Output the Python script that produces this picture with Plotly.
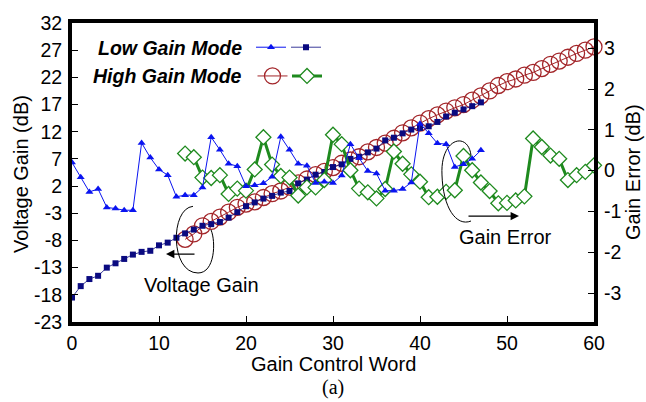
import plotly.graph_objects as go

# Gain control word (x) for each mode
low_words = list(range(0, 48))
high_words = list(range(13, 61))

# Low gain mode: voltage gain (dB) and gain error (dB)
low_gain = [-18.5, -16.4, -15.1, -14.5, -13.0, -12.2, -11.4, -10.6, -10.1, -9.9,
            -8.9, -8.4, -7.5, -6.7, -6.0, -5.3, -5.0, -4.6, -3.8, -2.8,
            -1.7, -1.0, -0.3, 0.2, 0.8, 1.1, 2.5, 3.2, 4.1, 4.6,
            5.5, 6.0, 7.0, 7.4, 8.2, 8.9, 10.4, 10.9, 11.7, 12.4,
            12.7, 13.0, 13.8, 14.8, 15.5, 16.1, 16.7, 17.4]
low_err = [0.20, -0.16, -0.52, -0.45, -0.90, -0.93, -0.97, -0.97, 0.68, 0.32,
           0.03, -0.11, -0.64, -0.60, -0.60, -0.41, 0.82, 0.51, 0.17, 0.11,
           -0.38, -0.36, -0.31, -0.15, 0.83, 0.51, 0.17, 0.12, -0.30, -0.27,
           -0.30, -0.12, 0.65, 0.31, -0.01, -0.07, -0.49, -0.49, -0.45, -0.29,
           1.15, 0.92, 0.67, 0.65, 0.09, 0.16, 0.29, 0.50]

# High gain mode: voltage gain (dB) and gain error (dB)
high_gain = [-7.8, -6.8, -5.3, -4.5, -3.7, -2.8, -1.9, -1.3, -0.9, -0.1,
             0.6, 1.1, 1.8, 2.6, 3.3, 4.1, 4.7, 5.4, 6.2, 6.8,
             7.4, 8.3, 9.1, 9.9, 10.8, 11.8, 12.7, 13.6, 14.4, 15.1,
             15.8, 16.4, 17.0, 17.8, 18.6, 19.5, 20.5, 21.2, 21.7, 22.4,
             22.9, 23.6, 24.4, 25.0, 25.7, 26.4, 27.0, 27.6]
high_err = [0.42, 0.33, -0.17, -0.18, -0.11, -0.57, -0.44, -0.49, 0.03, 0.82,
            0.15, -0.13, -0.17, -0.61, -0.41, -0.41, -0.23, 0.88, 0.65, 0.01,
            -0.44, -0.53, -0.68, -0.45, 0.47, 0.17, -0.09, -0.27, -0.65, -0.64,
            -0.52, -0.48, 0.36, 0.01, -0.29, -0.50, -0.80, -0.79, -0.73, -0.63,
            0.79, 0.58, 0.37, 0.29, -0.23, -0.11, -0.03, 0.13]

left_ticks = [-23, -18, -13, -8, -3, 2, 7, 12, 17, 22, 27, 32]
right_ticks = [-3, -2, -1, 0, 1, 2, 3]
x_ticks = [0, 10, 20, 30, 40, 50, 60]

W, H = 646, 402
ML, MR, MT, MB = 72, 52, 17, 80
PW, PH = W - ML - MR, H - MT - MB
SANS = "Liberation Sans, Arial, sans-serif"


def px(x):
    return (x - ML) / PW


def py(y):
    return (H - MB - y) / PH


def path(points):
    (x0, y0), rest = points[0], points[1:]
    d = f"M {px(x0):.4f},{py(y0):.4f}"
    for i in range(0, len(rest), 3):
        c = " ".join(f"{px(a):.4f},{py(b):.4f}" for a, b in rest[i:i + 3])
        d += f" C {c}"
    return d


def hyphen(vals):
    return [str(v) for v in vals]


fig = go.Figure()

fig.add_trace(go.Scatter(
    x=high_words, y=high_gain, mode="lines+markers", name="",
    legend="legend3", cliponaxis=False,
    line=dict(color="#A3262A", width=1),
    marker=dict(symbol="circle-open", size=16, color="#A3262A",
                line=dict(width=1.3, color="#A3262A"))))

fig.add_trace(go.Scatter(
    x=high_words, y=high_err, yaxis="y2", mode="lines+markers", name="",
    legend="legend4", cliponaxis=False,
    line=dict(color="#1E8A1E", width=3),
    marker=dict(symbol="diamond", size=11.5, color="white",
                line=dict(width=1.3, color="#1E8A1E"))))

fig.add_trace(go.Scatter(
    x=low_words, y=low_err, yaxis="y2", mode="lines+markers", name="",
    legend="legend", cliponaxis=False,
    line=dict(color="#0A14F0", width=1),
    marker=dict(symbol="triangle-up", size=7, color="#0A14F0")))

fig.add_trace(go.Scatter(
    x=low_words, y=low_gain, mode="lines+markers", name="",
    legend="legend2", cliponaxis=False,
    line=dict(color="#0A0A80", width=0.8),
    marker=dict(symbol="square", size=6, color="#0A0A80")))

axis_common = dict(showline=True, linewidth=4, linecolor="black", mirror=True,
                   ticks="inside", ticklen=6, tickwidth=1, tickcolor="black",
                   showgrid=False, zeroline=False,
                   tickfont=dict(family=SANS, size=19.5, color="black"))

legend_common = dict(orientation="h", xanchor="left", yanchor="middle",
                     entrywidth=1, entrywidthmode="pixels", itemwidth=30,
                     bgcolor="rgba(0,0,0,0)", borderwidth=0,
                     font=dict(size=1), itemsizing="trace")

fig.update_layout(
    width=W, height=H,
    margin=dict(l=ML, r=MR, t=MT, b=MB),
    paper_bgcolor="white", plot_bgcolor="white",
    showlegend=True,
    xaxis=dict(range=[0, 60], tickvals=x_ticks, ticktext=hyphen(x_ticks),
               ticklabelstandoff=1, **axis_common),
    yaxis=dict(range=[-23, 32], tickvals=left_ticks, ticktext=hyphen(left_ticks),
               ticklabelstandoff=2, **axis_common),
    yaxis2=dict(range=[-3.71, 3.62], tickvals=right_ticks, ticktext=hyphen(right_ticks),
                overlaying="y", side="right", ticklabelstandoff=2,
                **{k: v for k, v in axis_common.items() if k != "mirror"}),
    # one legend per sample symbol: Low Gain row, then High Gain row
    legend=dict(x=px(251), y=py(41.7), **legend_common),
    legend2=dict(x=px(286), y=py(41.7), **legend_common),
    legend3=dict(x=px(252.5), y=py(71), **legend_common),
    legend4=dict(x=px(287), y=py(71), **legend_common),
)

ann = []


def label(text, x, y, **kw):
    d = dict(text=text, x=px(x), y=py(y), xref="paper", yref="paper",
             xanchor="center", yanchor="middle", showarrow=False)
    d.update(kw)
    ann.append(d)


legend_font = dict(family=SANS, size=19.5, color="black", weight="bold", style="italic")
label("Low Gain Mode", 244, 43, xanchor="right", font=legend_font)
label("High Gain Mode", 244, 71, xanchor="right", font=legend_font)

label_font = dict(family=SANS, size=20, color="black")
label("Voltage Gain (dB)", 21, 171, textangle=-90, font=label_font)
label("Gain Error (dB)", 633, 169, textangle=-90, font=label_font)
label("Gain Control Word", 333, 365, font=label_font)
label("(a)", 333, 389, font=dict(family="Liberation Serif, Times New Roman, serif",
                                 size=20, color="black"))
label("Voltage Gain", 201, 284, font=label_font)
label("Gain Error", 505, 235, font=label_font)

# callout arrows
ann.append(dict(text="", x=px(166), y=py(252.7), xref="paper", yref="paper",
                ax=30, ay=0, showarrow=True, arrowhead=2, arrowsize=1.4,
                arrowwidth=1.2, arrowcolor="black"))
ann.append(dict(text="", x=px(519), y=py(214), xref="paper", yref="paper",
                ax=-52, ay=0, showarrow=True, arrowhead=2, arrowsize=1.4,
                arrowwidth=1.2, arrowcolor="black"))
fig.update_layout(annotations=ann)

# loops marking which curves belong to which axis
fig.add_shape(type="path", xref="paper", yref="paper",
              path=path([(193, 204), (170, 206), (170, 272), (198, 272),
                         (215, 272), (216, 240), (211, 228)]),
              line=dict(color="black", width=1))
fig.add_shape(type="path", xref="paper", yref="paper",
              path=path([(471, 152), (468, 127), (440, 134), (442, 172),
                         (443, 205), (456, 225), (471, 219)]),
              line=dict(color="black", width=1))

fig.write_html("out.html")
